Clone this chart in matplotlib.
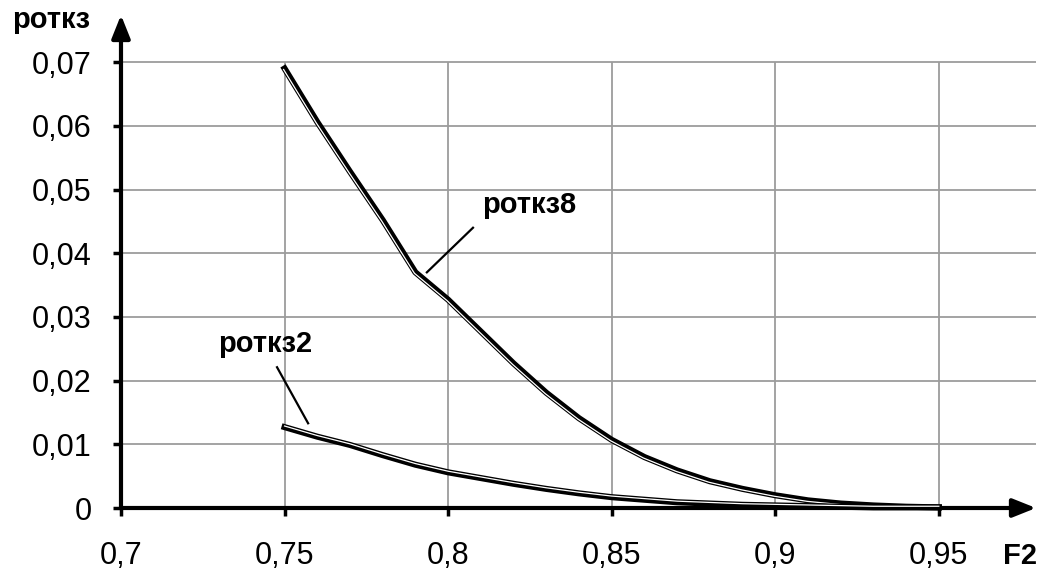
import numpy as np
import matplotlib
matplotlib.use('Agg')
import matplotlib.pyplot as plt
import matplotlib.patheffects as pe

plt.rcParams['font.family'] = ['Liberation Sans', 'DejaVu Sans']

# curve data
F2 = [0.75, 0.76, 0.77, 0.78, 0.79, 0.80, 0.81, 0.82, 0.83, 0.84, 0.85,
      0.86, 0.87, 0.88, 0.89, 0.90, 0.91, 0.92, 0.93, 0.94, 0.95]
p_otkz8 = [0.0690, 0.0606, 0.0528, 0.0452, 0.0370, 0.0327, 0.0277, 0.0227, 0.0181, 0.0141, 0.0107,
           0.0080, 0.0059, 0.0042, 0.0030, 0.0020, 0.0012, 0.0007, 0.0004, 0.0002, 0.0001]
p_otkz2 = [0.0127, 0.0112, 0.0099, 0.0083, 0.0068, 0.0056, 0.0047, 0.0038, 0.0030, 0.0023, 0.0017,
           0.0013, 0.0009, 0.0007, 0.0005, 0.0004, 0.0003, 0.0002, 0.0001, 0.0001, 0.0001]

x_ticks = [0.7, 0.75, 0.8, 0.85, 0.9, 0.95]
x_labels = ['0,7', '0,75', '0,8', '0,85', '0,9', '0,95']
y_ticks = [0, 0.01, 0.02, 0.03, 0.04, 0.05, 0.06, 0.07]
y_labels = ['0', '0,01', '0,02', '0,03', '0,04', '0,05', '0,06', '0,07']

fig = plt.figure(figsize=(10.41, 5.77), dpi=100)
ax = fig.add_axes([0.11623, 0.11958, 0.87896, 0.85442])
xmax = 0.9797
ymax = 0.0774
ax.set_xlim(0.7, xmax)
ax.set_ylim(0, ymax)
for s in ax.spines.values():
    s.set_visible(False)

# grid
grid_c = '#9c9c9c'
ax.hlines(y_ticks[1:], 0.7, xmax, color=grid_c, lw=1.3, zorder=1)
ax.vlines(x_ticks[1:], 0, 0.07, color=grid_c, lw=1.3, zorder=1)

# axes with arrows
arrow = dict(arrowstyle='-|>,head_length=0.7,head_width=0.28', lw=3, color='k',
             mutation_scale=20, shrinkA=0, shrinkB=0)
ax.annotate('', xy=(0, 1), xytext=(0, 0), xycoords='axes fraction', arrowprops=arrow, zorder=5)
ax.annotate('', xy=(1, 0), xytext=(0, 0), xycoords='axes fraction', arrowprops=arrow, zorder=5)

ax.set_xticks(x_ticks)
ax.set_xticklabels(x_labels)
ax.set_yticks(y_ticks)
ax.set_yticklabels(y_labels)
ax.tick_params(axis='both', direction='out', length=6, width=2.5, labelsize=22, colors='k')
ax.tick_params(axis='x', pad=18)
ax.tick_params(axis='y', pad=15)

# double-line curves
def double_line(x, y, off):
    ax.plot(x, y, color='k', lw=4.4, zorder=6, clip_on=False,
            path_effects=[pe.Stroke(linewidth=4.4, foreground='k'),
                          pe.Stroke(linewidth=0.9, foreground='white', offset=off)])

double_line(F2, p_otkz8, (-0.7, -0.7))
double_line(F2, p_otkz2, (0, 0.8))

# labels with leader lines
ax.plot([0.7935, 0.8076], [0.0370, 0.0440], color='k', lw=1.6, zorder=7)
ax.plot([0.7477, 0.7572], [0.0221, 0.0133], color='k', lw=1.6, zorder=7)
ax.text(0.8103, 0.0463, 'роткз8', fontsize=21, fontweight='bold', va='baseline', ha='left')
ax.text(0.7296, 0.0245, 'роткз2', fontsize=21, fontweight='bold', va='baseline', ha='left')

fig.text(12 / 1041, 1 - 28 / 577, 'роткз', fontsize=21, fontweight='bold', va='baseline', ha='left')
fig.text(1003 / 1041, 1 - 564 / 577, 'F2', fontsize=21, fontweight='bold', va='baseline', ha='left')

fig.savefig('out.png', dpi=100)
